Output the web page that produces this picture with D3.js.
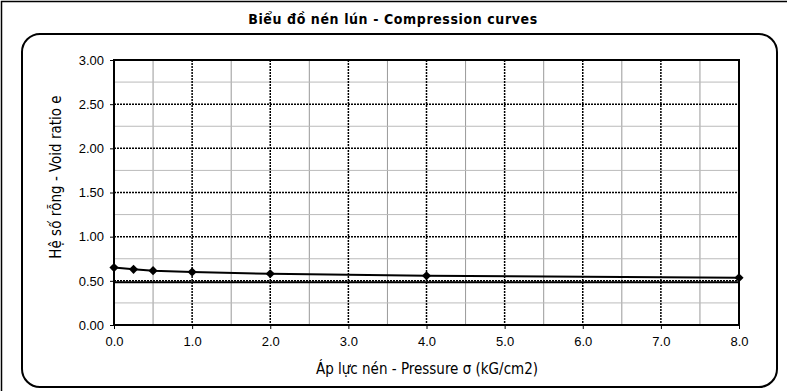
<!DOCTYPE html>
<html>
<head>
<meta charset="utf-8">
<style>
  body { margin: 0; background: #fff; }
  text { font-family: "Liberation Sans", Arial, sans-serif; }
  .narrow { font-family: "Liberation Sans Narrow", "DejaVu Sans Condensed", "Liberation Sans", sans-serif; font-stretch: condensed; }
</style>
<script src="https://d3js.org/d3.v7.min.js"></script>
</head>
<body>
<svg width="787" height="391"></svg>
<script>
// du lieu duong cong nen lun
var pressure = [0, 0.25, 0.5, 1, 2, 4, 8];
var voidRatio = [0.65, 0.63, 0.615, 0.60, 0.58, 0.558, 0.535];
var refLine = [[0, 0.485], [8, 0.485]];   // duong ngang ben duoi 0.50
var xTicks = [0, 1, 2, 3, 4, 5, 6, 7, 8];
var yTicks = [0, 0.5, 1, 1.5, 2, 2.5, 3];

var svg = d3.select("svg");

// khung ngoai
svg.append("path").attr("d", "M1.5,391 L1.5,1.5 L787,1.5")
   .attr("fill", "none").attr("stroke", "#000").attr("stroke-width", 1.5);

svg.append("text").attr("class", "narrow")
   .attr("x", 393).attr("y", 24).attr("text-anchor", "middle")
   .attr("font-size", 14).attr("font-weight", "bold")
   .attr("letter-spacing", 0.6)
   .text("Biểu đồ nén lún - Compression curves");

svg.append("rect").attr("x", 22).attr("y", 34).attr("width", 755).attr("height", 353)
   .attr("rx", 18).attr("ry", 18)
   .attr("fill", "none").attr("stroke", "#000").attr("stroke-width", 2);

var pLeft = 114, pRight = 739, pTop = 60, pBottom = 325;
var x = d3.scaleLinear().domain([0, 8]).range([pLeft, pRight]);
var y = d3.scaleLinear().domain([0, 3]).range([pBottom, pTop]);

var g = svg.append("g");

// luoi phu (xam)
d3.range(0.5, 8, 1).forEach(function(v) {
  g.append("line").attr("x1", x(v)).attr("x2", x(v)).attr("y1", pTop).attr("y2", pBottom)
   .attr("stroke", "#999").attr("stroke-width", 1);
});
d3.range(0.25, 3, 0.5).forEach(function(v) {
  g.append("line").attr("x1", pLeft).attr("x2", pRight).attr("y1", y(v)).attr("y2", y(v))
   .attr("stroke", "#bbb").attr("stroke-width", 1);
});

// luoi chinh (cham)
xTicks.slice(1, -1).forEach(function(v) {
  g.append("line").attr("x1", x(v)).attr("x2", x(v)).attr("y1", pTop).attr("y2", pBottom)
   .attr("stroke", "#000").attr("stroke-width", 1.5).attr("stroke-dasharray", "2,1");
});
yTicks.slice(1, -1).forEach(function(v) {
  g.append("line").attr("x1", pLeft).attr("x2", pRight).attr("y1", y(v)).attr("y2", y(v))
   .attr("stroke", "#000").attr("stroke-width", 1.5).attr("stroke-dasharray", "2,1");
});

var line = d3.line().x(function(d) { return x(d[0]); }).y(function(d) { return y(d[1]); });

g.append("path").datum(refLine).attr("d", line)
 .attr("fill", "none").attr("stroke", "#000").attr("stroke-width", 2);

// khung vung ve
g.append("rect").attr("x", pLeft).attr("y", pTop).attr("width", pRight - pLeft).attr("height", pBottom - pTop)
 .attr("fill", "none").attr("stroke", "#000").attr("stroke-width", 2);

// truc
var xAxis = d3.axisBottom(x).tickValues(xTicks).tickSize(4).tickPadding(8)
              .tickFormat(d3.format(".1f"));
var yAxis = d3.axisLeft(y).tickValues(yTicks).tickSize(4).tickPadding(6)
              .tickFormat(d3.format(".2f"));

var gx = svg.append("g").attr("transform", "translate(0," + pBottom + ")").call(xAxis);
var gy = svg.append("g").attr("transform", "translate(" + pLeft + ",0)").call(yAxis);
[gx, gy].forEach(function(a) {
  a.select(".domain").remove();
  a.selectAll("text").attr("font-size", 13).attr("fill", "#000")
   .style("font-family", "'Liberation Sans', Arial, sans-serif");
  a.selectAll("line").attr("stroke", "#000");
});

// duong cong
var pts = pressure.map(function(p, i) { return [p, voidRatio[i]]; });
g.append("path").datum(pts).attr("d", line)
 .attr("fill", "none").attr("stroke", "#000").attr("stroke-width", 2);
g.selectAll(".pt").data(pts).enter().append("path")
 .attr("class", "pt")
 .attr("d", d3.symbol().type(d3.symbolSquare).size(42))
 .attr("transform", function(d) { return "translate(" + x(d[0]) + "," + y(d[1]) + ") rotate(45)"; })
 .attr("fill", "#000");

// tieu de truc
svg.append("text").attr("class", "narrow")
   .attr("x", 427).attr("y", 374).attr("text-anchor", "middle")
   .attr("font-size", 15)
   .text("Áp lực nén - Pressure σ (kG/cm2)");

svg.append("text").attr("class", "narrow")
   .attr("transform", "translate(61,177) rotate(-90)")
   .attr("text-anchor", "middle")
   .attr("font-size", 15)
   .text("Hệ số rỗng - Void ratio e");
</script>
</body>
</html>
